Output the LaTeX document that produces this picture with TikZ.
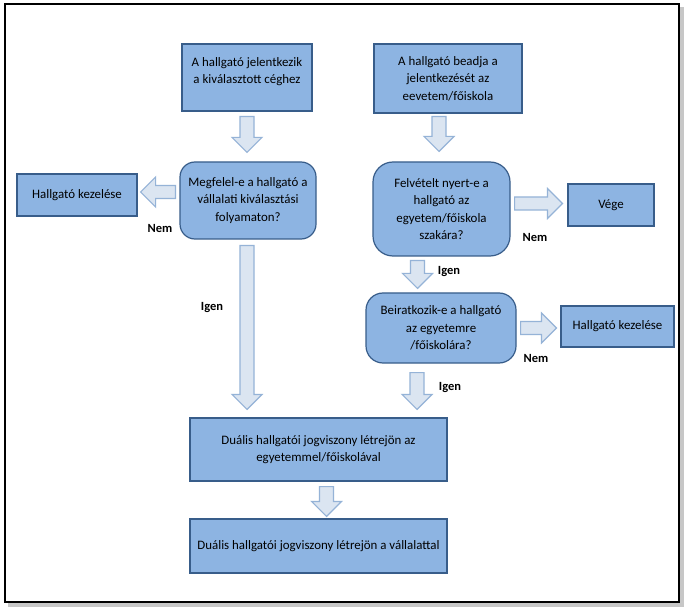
\documentclass[tikz,border=0pt]{standalone}
\usepackage{fontspec}
\setmainfont{Carlito}
\usepackage{tikz}
\usetikzlibrary{calc}

\definecolor{boxfill}{RGB}{141,180,226}
\definecolor{boxline}{RGB}{56,93,138}
\definecolor{arrowfill}{RGB}{219,229,241}
\definecolor{arrowline}{RGB}{149,179,215}

\tikzset{
  box/.style = {draw = boxline , fill = boxfill , line width = 1.2pt , align = center , inner sep = 2pt , font = \fontsize{12.9}{17.5}\selectfont},
  decision/.style = {box , rounded corners = 15pt},
  blockarrow/.style = {draw = arrowline , fill = arrowfill , line width = 1.2pt , line join = miter},
  answer/.style = {font = \fontsize{12.5}{14}\selectfont\bfseries}
}

% vastag nyilak: #1 kezdőpont, #2 csúcs
\newcommand{\arrowdown}[2]{%
  \draw[blockarrow] let \p1 = #1 , \p2 = #2 in
    (\x1-7pt,\y1) -- (\x1+7pt,\y1) -- (\x1+7pt,\y2+15pt) -- (\x1+15pt,\y2+15pt)
    -- (\x1,\y2) -- (\x1-15pt,\y2+15pt) -- (\x1-7pt,\y2+15pt) -- cycle;}
\newcommand{\arrowright}[2]{%
  \draw[blockarrow] let \p1 = #1 , \p2 = #2 in
    (\x1,\y1+6.5pt) -- (\x2-15pt,\y1+6.5pt) -- (\x2-15pt,\y1+15pt) -- (\x2,\y1)
    -- (\x2-15pt,\y1-15pt) -- (\x2-15pt,\y1-6.5pt) -- (\x1,\y1-6.5pt) -- cycle;}
\newcommand{\arrowleft}[2]{%
  \draw[blockarrow] let \p1 = #1 , \p2 = #2 in
    (\x1,\y1+6.5pt) -- (\x2+15pt,\y1+6.5pt) -- (\x2+15pt,\y1+15pt) -- (\x2,\y1)
    -- (\x2+15pt,\y1-15pt) -- (\x2+15pt,\y1-6.5pt) -- (\x1,\y1-6.5pt) -- cycle;}

\begin{document}
\begin{tikzpicture}[x = 1pt , y = -1pt]
    \useasboundingbox (0,0) rectangle (685,609);
    \fill[black!22] (8,7) rectangle (684,607); % árnyék
    \draw[line width = 1.5pt , fill = white] (5,4) rectangle (679,602); % keret

    % bal oldal
    \node[box , minimum width = 130pt , minimum height = 67pt , text depth = 14pt] (apply) at (247,77.5) {A hallgató jelentkezik\\a kiválasztott céghez};
    \node[decision , minimum width = 136pt , minimum height = 77pt] (fit) at (248,200.5) {Megfelel-e a hallgató a\\vállalati kiválasztási\\folyamaton?};
    \node[box , minimum width = 120pt , minimum height = 42pt] (handleA) at (77,195) {Hallgató kezelése};

    % jobb oldal
    \node[box , minimum width = 148pt , minimum height = 69pt] (submit) at (448,78.5) {A hallgató beadja a\\jelentkezését az\\eevetem/főiskola};
    \node[decision , rounded corners = 20pt , minimum width = 137pt , minimum height = 94pt] (admit) at (441.5,209) {Felvételt nyert-e a\\hallgató az\\egyetem/főiskola\\szakára?};
    \node[box , minimum width = 86pt , minimum height = 42pt] (done) at (611,205) {Vége};
    \node[decision , rounded corners = 17pt , minimum width = 150pt , minimum height = 70pt] (enrol) at (441,328) {Beiratkozik-e a hallgató\\az egyetemre\\/főiskolára?};
    \node[box , minimum width = 113pt , minimum height = 41pt] (handleB) at (617.5,326.5) {Hallgató kezelése};

    % alul
    \node[box , minimum width = 257pt , minimum height = 63pt] (uni) at (318.5,449.5) {Duális hallgatói jogviszony létrejön az\\egyetemmel/főiskolával};
    \node[box , minimum width = 257pt , minimum height = 54pt] (firm) at (318.5,546) {Duális hallgatói jogviszony létrejön a vállalattal};

    % nyilak
    \arrowdown{([yshift=-5pt]apply.south)}{([yshift=9pt]fit.north)}
    \arrowleft{([xshift=-4pt , yshift=8.5pt]fit.west)}{([xshift=3pt]handleA.east)}
    \arrowdown{([xshift=-1pt , yshift=-6pt]fit.south)}{([yshift=8pt]uni.north)}
    \arrowdown{([xshift=-9pt , yshift=-3pt]submit.south)}{([yshift=10pt]admit.north)}
    \arrowright{([xshift=4pt , yshift=5.5pt]admit.east)}{([xshift=-5pt]done.west)}
    \arrowdown{([xshift=-24pt , yshift=-4pt]admit.south)}{([yshift=4pt]enrol.north)}
    \arrowright{([xshift=4pt]enrol.east)}{([xshift=-4pt]handleB.west)}
    \arrowdown{([xshift=-24pt , yshift=-9pt]enrol.south)}{([yshift=8pt]uni.north)}
    \arrowdown{([xshift=8pt , yshift=-5pt]uni.south)}{([yshift=2pt]firm.north)}

    % válaszok
    \node[answer] (noA) at (160,228) {Nem};
    \node[answer] (yesA) at (212,308) {Igen};
    \node[answer] (noB) at (535,237) {Nem};
    \node[answer] (yesB) at (449,272) {Igen};
    \node[answer] (noC) at (536,358) {Nem};
    \node[answer] (yesC) at (450,388) {Igen};
\end{tikzpicture}
\end{document}
